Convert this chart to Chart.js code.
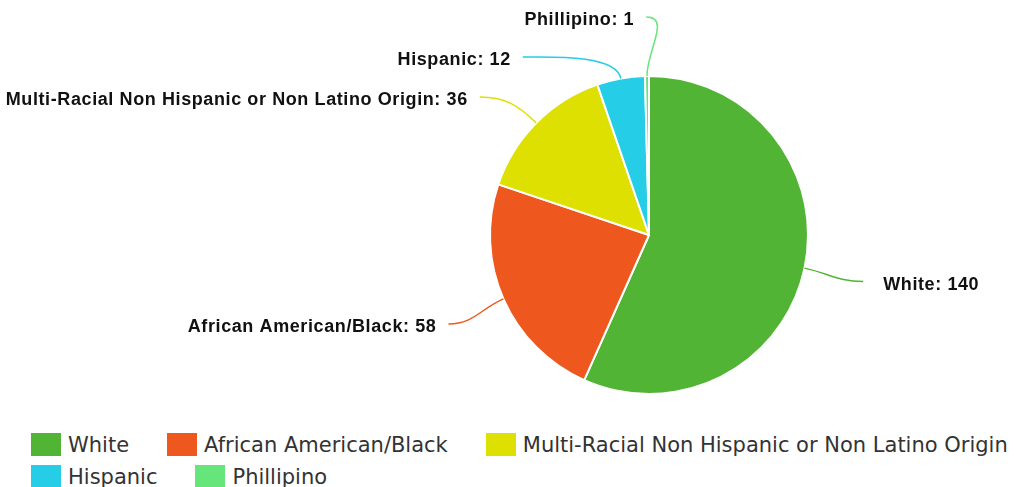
<!DOCTYPE html>
<html>
<head>
<meta charset="utf-8">
<script src="https://cdn.jsdelivr.net/npm/chart.js@4.4.0/dist/chart.umd.min.js"></script>
<style>
  html, body { margin: 0; padding: 0; background: #fff; overflow: hidden; }
  #wrap { position: relative; width: 1025px; height: 487px; overflow: hidden; }
  #box { position: absolute; left: 0; top: 0; width: 1025px; height: 420px; }
  #legend { position: absolute; left: 31px; top: 433px; width: 990px;
            display: flex; flex-wrap: wrap; column-gap: 38px; row-gap: 9px;
            font-family: "DejaVu Sans", sans-serif; font-size: 21px; color: #333; }
  .item { display: flex; align-items: center; height: 23px; white-space: nowrap; }
  .sw { width: 30px; height: 23px; margin-right: 7px; }
</style>
</head>
<body>
<div id="wrap">
  <div id="box"><canvas id="c"></canvas></div>
  <div id="legend"></div>
</div>
<script>
const labels = ['White', 'African American/Black', 'Multi-Racial Non Hispanic or Non Latino Origin', 'Hispanic', 'Phillipino'];
const counts = [140, 58, 36, 12, 1];
const colors = ['#52b434', '#ee581e', '#dde000', '#26cde6', '#66e57a'];

// labels outside the pie with curved connectors
const outLabels = {
  id: 'outLabels',
  afterDatasetsDraw(chart) {
    const ctx = chart.ctx;
    const meta = chart.getDatasetMeta(0);
    const items = meta.data.map((arc, i) => {
      const p = arc.getProps(['x', 'y', 'startAngle', 'endAngle', 'outerRadius'], true);
      const mid = (p.startAngle + p.endAngle) / 2;
      const R = p.outerRadius + 60;
      return { i, p, mid, R, y: p.y + R * Math.sin(mid), left: Math.cos(mid) < 0 };
    });
    // push overlapping labels down on each side
    [true, false].forEach(side => {
      const list = items.filter(it => it.left === side).sort((a, b) => a.y - b.y);
      for (let k = 1; k < list.length; k++) {
        if (list[k].y - list[k - 1].y < 40) list[k].y = list[k - 1].y + 40;
      }
    });
    ctx.save();
    items.forEach(it => {
      const { p, mid, R } = it;
      const dy = it.y - p.y;
      const dx = Math.sqrt(Math.max(0, R * R - dy * dy));
      const lx = it.left ? p.x - dx : p.x + dx;
      const ly = it.y + 1;
      const x0 = p.x + p.outerRadius * Math.cos(mid);
      const y0 = p.y + p.outerRadius * Math.sin(mid);
      const x1 = p.x + (p.outerRadius + 25) * Math.cos(mid);
      const y1 = p.y + (p.outerRadius + 25) * Math.sin(mid);
      const x2 = it.left ? lx + 25 : lx - 25;
      ctx.beginPath();
      ctx.moveTo(x0, y0);
      ctx.bezierCurveTo(x1, y1, x2, ly, lx, ly);
      ctx.strokeStyle = colors[it.i];
      ctx.lineWidth = 1.5;
      ctx.stroke();
      ctx.fillStyle = '#111';
      ctx.font = 'bold 18px "Liberation Sans", Arial, sans-serif';
      ctx.letterSpacing = '0.6px';
      ctx.textBaseline = 'middle';
      ctx.textAlign = it.left ? 'right' : 'left';
      ctx.fillText(labels[it.i] + ': ' + counts[it.i], it.left ? lx - 12 : lx + 20, ly + 3);
    });
    ctx.restore();
  }
};

new Chart(document.getElementById('c'), {
  type: 'pie',
  data: {
    labels: labels,
    datasets: [{
      data: counts,
      backgroundColor: colors,
      borderColor: '#fff',
      borderWidth: 2
    }]
  },
  options: {
    responsive: true,
    maintainAspectRatio: false,
    animation: false,
    layout: { padding: { top: 75, bottom: 25, left: 489, right: 216 } },
    plugins: {
      legend: { display: false },
      tooltip: { enabled: false }
    }
  },
  plugins: [outLabels]
});

const leg = document.getElementById('legend');
labels.forEach((l, i) => {
  const d = document.createElement('div');
  d.className = 'item';
  d.innerHTML = '<span class="sw" style="background:' + colors[i] + '"></span><span>' + l + '</span>';
  leg.appendChild(d);
});
</script>
</body>
</html>
